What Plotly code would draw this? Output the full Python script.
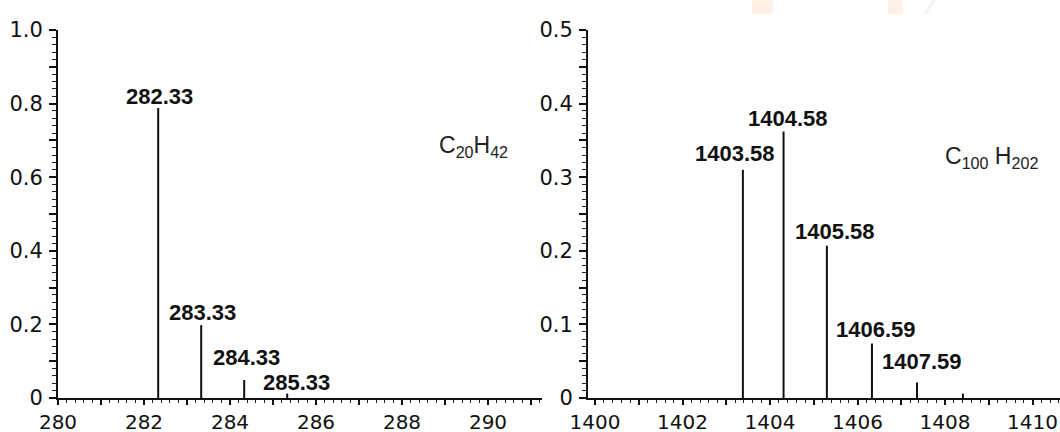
import plotly.graph_objects as go

# ---------------- data ----------------
left_mass_labels = ["282.33", "283.33", "284.33", "285.33"]
left_peak_x = [282.33, 283.33, 284.33, 285.33]
left_peak_y = [0.788, 0.198, 0.049, 0.012]

right_mass_labels = ["1403.58", "1404.58", "1405.58", "1406.59", "1407.59", ""]
right_peak_x = [1403.38, 1404.31, 1405.30, 1406.33, 1407.36, 1408.41]
right_peak_y = [0.310, 0.362, 0.207, 0.074, 0.021, 0.006]

left_formula = "C<sub>20</sub>H<sub>42</sub>"
right_formula = "C<sub>100</sub> H<sub>202</sub>"

left_xtick_vals = list(range(280, 292))
left_xtick_text = ["280", "", "282", "", "284", "", "286", "", "288", "", "290", ""]
right_xtick_vals = list(range(1400, 1411))
right_xtick_text = ["1400", "", "1402", "", "1404", "", "1406", "", "1408", "", "1410"]
left_ytick_vals = [0, 0.1, 0.2, 0.3, 0.4, 0.5, 0.6, 0.7, 0.8, 0.9, 1.0]
left_ytick_text = ["0", "", "0.2", "", "0.4", "", "0.6", "", "0.8", "", "1.0"]
right_ytick_vals = [0, 0.05, 0.1, 0.15, 0.2, 0.25, 0.3, 0.35, 0.4, 0.45, 0.5]
right_ytick_text = ["0", "", "0.1", "", "0.2", "", "0.3", "", "0.4", "", "0.5"]

# ---------------- figure ----------------
W, H = 1060, 432
ML, MR, MT, MB = 58, 0, 30, 34
PW = W - ML - MR
PH = H - MT - MB


def stems(xs, ys):
    sx, sy = [], []
    for x, y in zip(xs, ys):
        sx += [x, x, None]
        sy += [0, y, None]
    return sx, sy


fig = go.Figure()
lx, ly = stems(left_peak_x, left_peak_y)
rx, ry = stems(right_peak_x, right_peak_y)
fig.add_trace(go.Scatter(x=lx, y=ly, mode="lines", line=dict(color="#111", width=2),
                         xaxis="x", yaxis="y", showlegend=False, hoverinfo="skip"))
fig.add_trace(go.Scatter(x=rx, y=ry, mode="lines", line=dict(color="#111", width=2),
                         xaxis="x2", yaxis="y2", showlegend=False, hoverinfo="skip"))

xtick_font = dict(family="DejaVu Sans", size=20, color="#111")
ytick_font = dict(family="DejaVu Sans", size=21, color="#111")
common_x = dict(showline=True, linecolor="#111", linewidth=2, ticks="outside",
                ticklen=5, tickwidth=1.5, tickcolor="#111", showgrid=False,
                zeroline=False, tickfont=xtick_font, tickmode="array",
                ticklabelstandoff=0, automargin=False,
                minor=dict(dtick=0.2, ticks="outside", ticklen=3, tickwidth=1,
                           tickcolor="#222", showgrid=False))
common_y = dict(showline=True, linecolor="#111", linewidth=2, ticks="outside",
                ticklen=7, tickwidth=1.5, tickcolor="#111", showgrid=False,
                zeroline=False, tickfont=ytick_font, tickmode="array",
                ticklabelstandoff=2, automargin=False)

x1_range = [280, 280 + 484 / 43.0]
x2_range = [1400 - 7 / 43.75, 1400 + (W - 595) / 43.75]

fig.update_layout(
    width=W, height=H,
    margin=dict(l=ML, r=MR, t=MT, b=MB, pad=0, autoexpand=False),
    paper_bgcolor="white", plot_bgcolor="white",
    xaxis=dict(common_x, domain=[0, 484 / PW], range=x1_range, anchor="y",
               tickvals=left_xtick_vals, ticktext=left_xtick_text),
    yaxis=dict(common_y, domain=[0, 1], range=[0, 1.0], anchor="x",
               tickvals=left_ytick_vals, ticktext=left_ytick_text,
               minor=dict(dtick=0.02, ticks="outside", ticklen=4, tickwidth=1,
                          tickcolor="#222", showgrid=False)),
    xaxis2=dict(common_x, domain=[530 / PW, 1], range=x2_range, anchor="y2",
                tickvals=right_xtick_vals, ticktext=right_xtick_text),
    yaxis2=dict(common_y, domain=[0, 1], range=[0, 0.5], anchor="x2",
                tickvals=right_ytick_vals, ticktext=right_ytick_text,
                minor=dict(dtick=0.01, ticks="outside", ticklen=4, tickwidth=1,
                           tickcolor="#222", showgrid=False)),
)

label_font = dict(family="Liberation Sans", size=22, color="#111")
left_offsets = [(1, 12), (1, 13), (2, 22), (9, 11)]
right_offsets = [(-8, 16), (4, 13), (8, 14), (4, 14), (5, 21), (0, 0)]

anns = []
for t, x, y, (dx, dy) in zip(left_mass_labels, left_peak_x, left_peak_y, left_offsets):
    anns.append(dict(text="<b>%s</b>" % t, x=x, y=y, xref="x", yref="y",
                     xanchor="center", yanchor="middle", xshift=dx, yshift=dy,
                     showarrow=False, font=label_font))
for t, x, y, (dx, dy) in zip(right_mass_labels, right_peak_x, right_peak_y, right_offsets):
    if not t:
        continue
    anns.append(dict(text="<b>%s</b>" % t, x=x, y=y, xref="x2", yref="y2",
                     xanchor="center", yanchor="middle", xshift=dx, yshift=dy,
                     showarrow=False, font=label_font))

formula_font = dict(family="Liberation Sans", size=23, color="#222")
anns.append(dict(text=left_formula, x=(437 - ML) / PW, y=(H - MB - 146) / PH,
                 xref="paper", yref="paper", xanchor="left", yanchor="middle",
                 showarrow=False, font=formula_font))
anns.append(dict(text=right_formula, x=(943 - ML) / PW, y=(H - MB - 157) / PH,
                 xref="paper", yref="paper", xanchor="left", yanchor="middle",
                 showarrow=False, font=formula_font))
fig.update_layout(annotations=anns)

# faint watermark remnants at the top edge
wm = "rgba(252,226,205,0.45)"
def py(p):
    return (H - MB - p) / PH
def px(p):
    return (p - ML) / PW
fig.add_shape(type="rect", xref="paper", yref="paper", x0=px(752), x1=px(773),
              y0=py(14), y1=py(0), fillcolor=wm, line=dict(width=0), layer="below")
fig.add_shape(type="rect", xref="paper", yref="paper", x0=px(888), x1=px(903),
              y0=py(14), y1=py(0), fillcolor=wm, line=dict(width=0), layer="below")
fig.add_shape(type="line", xref="paper", yref="paper", x0=px(925), x1=px(934),
              y0=py(14), y1=py(0), line=dict(color=wm, width=3), layer="below")

fig.write_html("out.html",
               config={"displayModeBar": False},
               post_script="document.body.style.margin='0';"
                           "document.body.style.padding='0';"
                           "document.body.style.overflow='hidden';")
